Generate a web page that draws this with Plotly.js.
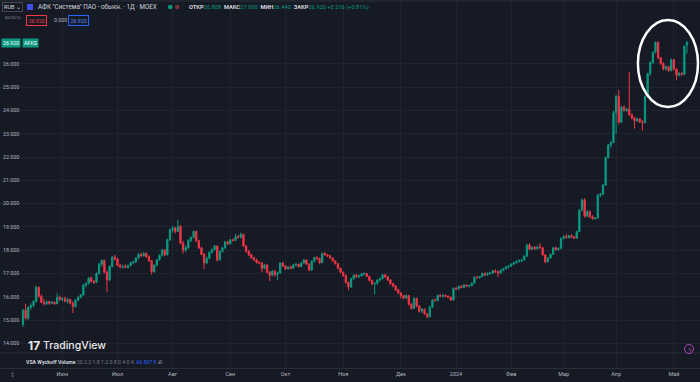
<!DOCTYPE html>
<html><head><meta charset="utf-8">
<script src="https://cdn.plot.ly/plotly-3.0.1.min.js"></script>
<style>html,body{margin:0;padding:0;background:#161a25;overflow:hidden}#chart{width:700px;height:382px}</style>
</head><body><div id="chart"></div>
<script>
// AFKS daily candles (May 2023 - May 2024)
const open = [
14.80,15.42,15.08,15.55,15.62,15.80,16.40,16.02,15.76,15.70,
15.78,15.72,15.76,15.70,15.98,15.88,15.92,15.80,15.88,15.72,
15.58,15.85,15.98,16.08,16.50,16.58,16.80,16.65,16.62,17.00,
17.40,17.55,17.05,16.72,17.30,17.70,17.62,17.35,17.28,17.30,
17.26,17.34,17.46,17.50,17.66,17.82,17.76,17.86,17.72,17.55,
17.08,17.35,17.58,17.78,18.00,17.80,18.45,18.88,18.95,18.80,
19.02,18.30,18.00,18.10,18.42,18.55,18.80,18.40,18.10,17.82,
17.45,17.65,17.90,18.02,18.18,17.58,17.95,18.10,18.35,18.28,
18.45,18.42,18.58,18.55,18.68,18.18,17.95,17.80,17.68,17.58,
17.48,17.45,17.22,17.36,17.05,16.92,17.10,16.95,17.02,17.45,
17.32,17.20,17.28,17.22,17.36,17.40,17.30,17.45,17.58,17.40,
17.15,17.52,17.68,17.64,17.46,17.86,17.80,17.76,17.66,17.54,
17.42,17.22,17.05,16.92,16.62,16.42,16.78,16.92,16.86,16.90,
16.98,17.00,16.88,16.70,16.55,16.58,16.72,16.78,16.94,16.86,
16.72,16.56,16.46,16.30,16.16,16.05,15.95,16.05,15.68,15.50,
15.92,15.60,15.38,15.46,15.26,15.14,15.55,15.86,15.84,16.06,
16.02,16.06,16.02,15.98,15.86,16.36,16.34,16.44,16.40,16.50,
16.46,16.48,16.58,16.84,16.82,16.86,17.00,16.94,17.00,17.02,
17.12,17.08,17.02,17.14,17.20,17.28,17.32,17.40,17.46,17.52,
17.55,17.58,17.74,18.22,18.04,18.12,18.06,18.14,18.10,17.80,
17.50,17.66,17.82,18.10,18.02,18.08,18.50,18.58,18.54,18.62,
18.56,18.52,18.80,19.72,20.16,19.46,19.66,19.44,19.36,19.38,
20.36,20.40,20.80,21.98,22.52,22.62,23.90,24.60,23.50,24.14,
24.00,24.06,23.82,23.68,23.56,23.64,23.52,23.48,24.60,25.58,
26.06,26.50,26.92,26.26,26.02,25.78,25.88,25.72,26.18,25.78,
25.52,25.60,25.56,26.808
];
const high = [
15.48,15.70,15.58,15.72,15.85,16.48,16.45,16.10,15.90,15.85,
15.84,15.82,15.80,16.15,16.05,15.98,16.00,15.95,15.92,15.80,
15.90,16.02,16.12,16.55,16.62,16.85,16.88,16.72,17.05,17.45,
17.62,17.60,17.12,17.35,17.75,17.80,17.68,17.42,17.38,17.40,
17.38,17.50,17.55,17.70,17.88,17.90,17.92,17.90,17.78,17.58,
17.40,17.62,17.82,18.05,18.05,18.50,18.92,19.05,19.00,19.30,
19.08,18.40,18.20,18.48,18.60,18.85,18.84,18.45,18.15,17.88,
17.72,17.95,18.08,18.22,18.20,17.98,18.15,18.40,18.40,18.48,
18.50,18.70,18.66,18.75,18.70,18.22,18.02,17.86,17.72,17.64,
17.52,17.48,17.42,17.40,17.10,17.15,17.14,17.08,17.48,17.50,
17.36,17.32,17.34,17.40,17.44,17.42,17.48,17.62,17.60,17.44,
17.56,17.72,17.74,17.68,17.90,17.92,17.84,17.80,17.68,17.56,
17.45,17.25,17.08,16.95,16.65,16.82,16.96,16.98,16.94,17.02,
17.04,17.02,16.90,16.74,16.62,16.76,16.82,16.98,16.98,16.90,
16.76,16.60,16.50,16.34,16.20,16.08,16.10,16.08,15.72,15.98,
15.96,15.64,15.52,15.50,15.30,15.62,15.90,15.92,16.10,16.12,
16.10,16.10,16.06,16.00,16.40,16.42,16.48,16.50,16.54,16.54,
16.52,16.62,16.88,16.90,16.90,17.04,17.04,17.04,17.06,17.16,
17.18,17.12,17.18,17.24,17.32,17.36,17.44,17.50,17.56,17.60,
17.60,17.78,18.28,18.30,18.16,18.18,18.20,18.30,18.14,17.84,
17.70,17.86,18.14,18.16,18.12,18.54,18.64,18.70,18.66,18.68,
18.62,18.84,19.76,20.22,20.24,19.72,19.70,19.50,19.42,20.42,
20.46,20.84,22.02,22.56,22.70,24.00,24.68,24.88,24.20,24.22,
24.12,25.66,23.88,23.74,23.70,23.68,23.60,24.64,25.62,26.12,
26.54,26.98,26.98,26.30,26.08,25.94,25.92,26.24,26.22,25.82,
25.66,25.64,26.80,27.000
];
const low = [
14.72,15.02,15.00,15.45,15.55,15.75,15.95,15.72,15.62,15.64,
15.66,15.68,15.65,15.68,15.82,15.80,15.76,15.70,15.68,15.30,
15.52,15.80,15.92,16.05,16.40,16.52,16.62,16.55,16.58,16.95,
17.30,17.00,16.20,16.68,17.25,17.55,17.30,17.22,17.20,17.24,
17.20,17.30,17.40,17.46,17.60,17.70,17.72,17.68,17.50,16.95,
17.02,17.30,17.55,17.72,17.75,17.78,18.40,18.75,18.72,18.78,
18.25,17.85,17.92,18.05,18.35,18.50,18.35,18.05,17.78,17.20,
17.40,17.60,17.85,17.98,17.52,17.55,17.90,18.05,18.22,18.25,
18.36,18.40,18.50,18.50,18.15,17.90,17.75,17.62,17.54,17.42,
17.40,17.05,17.18,17.00,16.68,16.88,16.85,16.72,17.00,17.28,
17.15,17.16,17.18,17.20,17.30,17.26,17.26,17.42,17.36,17.10,
17.12,17.48,17.58,17.42,17.44,17.76,17.70,17.62,17.50,17.38,
17.18,17.00,16.85,16.55,16.28,16.38,16.72,16.80,16.80,16.86,
16.90,16.84,16.66,16.50,16.10,16.52,16.66,16.74,16.80,16.68,
16.52,16.40,16.25,16.12,15.92,15.88,15.90,15.62,15.45,15.48,
15.55,15.32,15.30,15.22,15.08,15.10,15.52,15.78,15.80,15.98,
15.96,15.98,15.94,15.82,15.84,16.28,16.30,16.36,16.38,16.42,
16.40,16.44,16.55,16.78,16.78,16.84,16.88,16.90,16.94,16.98,
17.02,16.84,17.00,17.10,17.16,17.22,17.28,17.36,17.42,17.46,
17.48,17.54,17.72,18.00,18.00,18.02,18.02,18.08,17.76,17.44,
17.46,17.62,17.80,17.98,17.98,18.04,18.46,18.50,18.50,18.52,
18.48,18.50,18.78,19.68,19.40,19.42,19.38,19.30,19.30,19.34,
20.28,20.36,20.76,21.94,22.40,22.60,23.00,23.40,23.46,23.96,
23.94,23.78,23.62,23.22,23.50,23.46,23.12,23.44,24.56,25.50,
26.00,26.44,26.20,25.96,25.72,25.70,25.66,25.68,25.72,25.30,
25.46,25.48,25.52,26.440
];
const close = [
15.42,15.08,15.55,15.62,15.80,16.40,16.02,15.76,15.70,15.78,
15.72,15.76,15.70,15.98,15.88,15.92,15.80,15.88,15.72,15.58,
15.85,15.98,16.08,16.50,16.58,16.80,16.65,16.62,17.00,17.40,
17.55,17.05,16.72,17.30,17.70,17.62,17.35,17.28,17.30,17.26,
17.34,17.46,17.50,17.66,17.82,17.76,17.86,17.72,17.55,17.08,
17.35,17.58,17.78,18.00,17.80,18.45,18.88,18.95,18.80,19.02,
18.30,18.00,18.10,18.42,18.55,18.80,18.40,18.10,17.82,17.45,
17.65,17.90,18.02,18.18,17.58,17.95,18.10,18.35,18.28,18.45,
18.42,18.58,18.55,18.68,18.18,17.95,17.80,17.68,17.58,17.48,
17.45,17.22,17.36,17.05,16.92,17.10,16.95,17.02,17.45,17.32,
17.20,17.28,17.22,17.36,17.40,17.30,17.45,17.58,17.40,17.15,
17.52,17.68,17.64,17.46,17.86,17.80,17.76,17.66,17.54,17.42,
17.22,17.05,16.92,16.62,16.42,16.78,16.92,16.86,16.90,16.98,
17.00,16.88,16.70,16.55,16.58,16.72,16.78,16.94,16.86,16.72,
16.56,16.46,16.30,16.16,16.05,15.95,16.05,15.68,15.50,15.92,
15.60,15.38,15.46,15.26,15.14,15.55,15.86,15.84,16.06,16.02,
16.06,16.02,15.98,15.86,16.36,16.34,16.44,16.40,16.50,16.46,
16.48,16.58,16.84,16.82,16.86,17.00,16.94,17.00,17.02,17.12,
17.08,17.02,17.14,17.20,17.28,17.32,17.40,17.46,17.52,17.55,
17.58,17.74,18.22,18.04,18.12,18.06,18.14,18.10,17.80,17.50,
17.66,17.82,18.10,18.02,18.08,18.50,18.58,18.54,18.62,18.56,
18.52,18.80,19.72,20.16,19.46,19.66,19.44,19.36,19.38,20.36,
20.40,20.80,21.98,22.52,22.62,23.90,24.60,23.50,24.14,24.00,
24.06,23.82,23.68,23.56,23.64,23.52,23.48,24.60,25.58,26.06,
26.50,26.92,26.26,26.02,25.78,25.88,25.72,26.18,25.78,25.52,
25.60,25.56,26.76,26.920
];
// month start positions (bar index) and their labels
const monthIdx = [15,36,57,79,100,122,144,165,186,206,226,248];
const monthLabels = ['Июн','Июл','Авг','Сен','Окт','Ноя','Дек','2024','Фев','Мар','Апр','Май'];
const yTickVals = [14,15,16,17,18,19,20,21,22,23,24,25,26];
const yTickText = ['14.000','15.000','16.000','17.000','18.000','19.000','20.000','21.000','22.000','23.000','24.000','25.000','26.000'];
const lastPrice = 26.92;

const UP='#089981', DN='#f23645', BG='#161a25', GRID='#1f2330', TXT='#b2b5be';
const FONT='Roboto, "Noto Sans", sans-serif';
const W=700,H=382,T=2,B=14;
const px = x => x/W;
const py = y => (H-B-y)/(H-B-T);
const idx = close.map((_, i) => i);

const trace = {
  type:'candlestick', x: idx, open, high, low, close,
  increasing:{line:{color:UP,width:1},fillcolor:UP},
  decreasing:{line:{color:DN,width:1},fillcolor:DN},
  whiskerwidth:0, hoverinfo:'skip', showlegend:false
};

function ann(x,y,text,opt){ return Object.assign({xref:'paper',yref:'paper',x:px(x),y:py(y),text,showarrow:false,xanchor:'left',yanchor:'middle',font:{family:FONT,size:6,color:'#d1d4dc'}},opt||{}); }

const annotations = [
  ann(2,7,'RUB ⌄',{bordercolor:'#434651',borderwidth:1,borderpad:1,font:{family:FONT,size:5.5,color:'#d1d4dc'}}),
  ann(3,17,'ВАЛЮТА',{font:{family:FONT,size:3.8,color:'#787b86'}}),
  ann(36,7,'АФК "Система" ПАО - обыкн. · 1Д · MOEX',{font:{family:FONT,size:6.3,color:'#d1d4dc'}}),
  ann(187,7,'<b>ОТКР</b><span style="color:'+UP+'">26.808</span>  <b>МАКС</b><span style="color:'+UP+'">27.000</span>  <b>МИН</b><span style="color:'+UP+'">26.440</span>  <b>ЗАКР</b><span style="color:'+UP+'">26.920 +0.216 (+0.81%)</span>',{font:{family:FONT,size:5.7,color:'#d1d4dc'}}),
  ann(26,20,'26.920',{bordercolor:DN,borderwidth:1,borderpad:1.5,font:{family:FONT,size:5.3,color:DN}}),
  ann(52,20,'0.000',{font:{family:FONT,size:5.3,color:'#b2b5be'}}),
  ann(68,20,'26.920',{bordercolor:'#2962ff',borderwidth:1,borderpad:1.5,font:{family:FONT,size:5.3,color:'#5b8cff'}}),
  {xref:'paper',yref:'y',x:px(1),y:lastPrice,text:'26.920',showarrow:false,xanchor:'left',yanchor:'middle',bgcolor:UP,borderpad:1,font:{family:FONT,size:5.3,color:'#ffffff'}},
  {xref:'paper',yref:'y',x:px(22),y:lastPrice,text:'AFKS',showarrow:false,xanchor:'left',yanchor:'middle',bgcolor:UP,borderpad:1,font:{family:FONT,size:5.3,color:'#ffffff'}},
  ann(26,345,'<b>17</b>',{font:{family:'Inter, '+FONT,size:12,color:'#e8e8ea'}}),
  ann(41,345,'TradingView',{font:{family:'Inter, '+FONT,size:10.5,color:'#e8e8ea',weight:500}}),
  ann(24,362,'<b>VSA Wyckoff Volume</b> <span style="color:#787b86">20 2.2 1.8 1.2 0.8 0.4 0.4</span>  <span style="color:#2962ff">66.567 K</span> ∅',{font:{family:FONT,size:5.2,color:'#d1d4dc'}}),
  ann(8,375,'⇕',{font:{family:FONT,size:6,color:'#787b86'}}),
  ann(686.3,349.5,'ϟ',{font:{family:'DejaVu Sans',size:6,color:'#ab47bc'}})
];

const shapes = [
  {type:'line',xref:'paper',yref:'paper',x0:0,x1:1,y0:py(1),y1:py(1),line:{color:'#2a2e39',width:1}},
  {type:'line',xref:'paper',yref:'paper',x0:0,x1:1,y0:py(353),y1:py(353),line:{color:'#2a2e39',width:1}},
  {type:'rect',xref:'paper',yref:'paper',x0:px(27),x1:px(33),y0:py(10),y1:py(4),fillcolor:'#3f51e5',line:{width:0}},
  {type:'circle',xref:'paper',yref:'paper',x0:px(168),x1:px(172.5),y0:py(9.3),y1:py(4.8),fillcolor:UP,line:{width:0}},
  {type:'circle',xref:'paper',yref:'paper',x0:px(175),x1:px(179.5),y0:py(9.3),y1:py(4.8),fillcolor:'#7a2f3c',line:{width:0}},
  {type:'circle',xref:'paper',yref:'paper',x0:px(684.5),x1:px(693.5),y0:py(353.5),y1:py(344.5),line:{color:'#ab47bc',width:1}},
  {type:'circle',xref:'x',yref:'y',x0:234.3,x1:257.2,y0:24.15,y1:27.89,line:{color:'#ffffff',width:2.5}}
];

const layout = {
  width:W,height:H,margin:{l:0,r:0,t:T,b:B,pad:0},
  paper_bgcolor:BG,plot_bgcolor:BG,showlegend:false,
  xaxis:{range:[-8.764,257.96],tickmode:'array',tickvals:monthIdx,ticktext:monthLabels,showgrid:true,gridcolor:GRID,gridwidth:1,
    zeroline:false,showline:true,linecolor:'#2a2e39',ticks:'',tickfont:{family:FONT,size:5.5,color:TXT},rangeslider:{visible:false},fixedrange:true},
  yaxis:{range:[12.939,28.661],tickmode:'array',tickvals:yTickVals,ticktext:yTickText,side:'left',ticklabelposition:'inside',
    showgrid:true,gridcolor:GRID,gridwidth:1,zeroline:false,showline:false,ticks:'',tickfont:{family:FONT,size:5.3,color:TXT},fixedrange:true},
  annotations, shapes
};

Plotly.newPlot('chart',[trace],layout,{staticPlot:true,displayModeBar:false});
</script>
</body></html>
